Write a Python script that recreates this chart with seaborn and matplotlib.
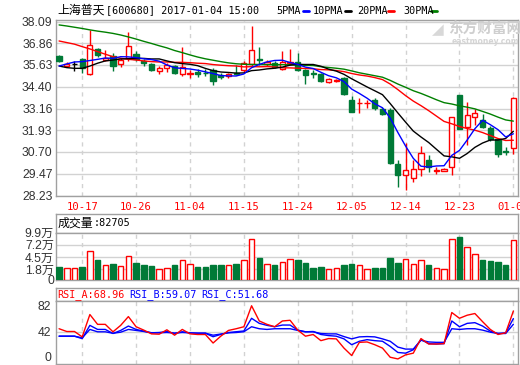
import matplotlib
matplotlib.use('Agg')
import matplotlib.pyplot as plt
from matplotlib.lines import Line2D
from matplotlib.patches import Rectangle
import numpy as np
import pandas as pd
import seaborn as sns

# ---------------- data ----------------
dates = ['10-12', '10-13', '10-14', '10-17', '10-18', '10-19', '10-20', '10-21', '10-24', '10-25',
         '10-26', '10-27', '10-28', '10-31', '11-01', '11-02', '11-03', '11-04', '11-07', '11-08',
         '11-09', '11-10', '11-11', '11-14', '11-15', '11-16', '11-17', '11-18', '11-21', '11-22',
         '11-23', '11-24', '11-25', '11-28', '11-29', '11-30', '12-01', '12-02', '12-05', '12-06',
         '12-07', '12-08', '12-09', '12-12', '12-13', '12-14', '12-15', '12-16', '12-19', '12-20',
         '12-21', '12-22', '12-23', '12-26', '12-27', '12-28', '12-29', '12-30', '01-03', '01-04']
opens = [36.14, 35.57, 35.68, 35.97, 35.10, 36.54, 35.92, 36.14, 35.67, 36.05,
         36.28, 35.86, 35.70, 35.27, 35.48, 35.57, 35.12, 35.10, 35.25, 35.20,
         35.35, 35.06, 35.02, 35.15, 35.35, 35.67, 35.95, 35.70, 35.73, 35.39,
         35.73, 35.82, 35.35, 35.16, 35.10, 34.68, 34.70, 34.88, 33.62, 33.45,
         33.45, 33.66, 33.12, 33.07, 30.04, 29.42, 29.25, 29.76, 30.27, 29.63,
         29.64, 29.86, 33.91, 32.12, 32.66, 32.50, 32.07, 31.41, 30.76, 30.90]
highs = [36.20, 35.80, 35.85, 36.05, 37.62, 36.60, 36.50, 36.30, 36.00, 37.48,
         36.40, 35.95, 35.75, 35.55, 35.75, 35.65, 36.67, 35.34, 35.40, 35.38,
         35.44, 35.20, 35.20, 35.65, 35.85, 37.85, 36.67, 35.90, 35.85, 36.43,
         36.54, 36.32, 35.40, 35.35, 35.15, 34.90, 34.82, 34.95, 33.87, 33.74,
         33.64, 33.74, 33.20, 33.17, 30.23, 31.18, 30.23, 31.05, 30.55, 29.84,
         29.77, 32.70, 33.95, 33.51, 33.11, 32.83, 32.16, 31.46, 31.00, 33.80]
lows = [35.80, 35.50, 35.30, 35.16, 35.08, 36.10, 35.85, 35.30, 35.50, 35.85,
        35.85, 35.55, 35.30, 35.10, 35.25, 35.12, 35.00, 34.92, 34.95, 35.00,
        34.50, 34.85, 34.90, 35.05, 35.25, 35.60, 35.63, 35.60, 35.45, 35.35,
        35.65, 35.30, 34.54, 34.88, 34.65, 34.62, 34.65, 33.95, 32.95, 32.90,
        33.17, 33.10, 32.80, 30.00, 28.72, 28.52, 29.00, 29.35, 29.57, 29.47,
        29.60, 29.42, 32.00, 31.08, 32.20, 32.03, 31.30, 30.42, 30.52, 30.56]
closes = [35.86, 35.68, 35.68, 35.44, 36.75, 36.20, 36.05, 35.59, 35.91, 36.70,
          35.98, 35.73, 35.36, 35.46, 35.63, 35.19, 35.53, 35.20, 35.12, 35.16,
          34.70, 34.97, 35.10, 35.10, 35.73, 36.48, 35.90, 35.82, 35.50, 35.80,
          35.82, 35.37, 35.06, 35.10, 34.73, 34.85, 34.78, 33.98, 32.97, 33.50,
          33.50, 33.20, 32.85, 30.08, 29.38, 29.66, 29.72, 30.62, 29.84, 29.68,
          29.73, 32.66, 32.02, 32.79, 32.88, 32.12, 31.42, 30.61, 30.72, 33.77]
volumes = [2.3, 2.0, 2.0, 2.3, 5.8, 3.7, 2.6, 2.9, 2.5, 4.7,
           3.1, 2.7, 2.5, 1.8, 2.0, 2.7, 3.9, 2.9, 2.3, 2.3,
           2.7, 2.7, 2.6, 2.9, 3.7, 8.5, 4.2, 2.9, 2.7, 3.3,
           4.0, 3.8, 3.1, 2.1, 2.3, 1.8, 2.0, 2.7, 2.9, 2.6,
           1.8, 2.1, 2.1, 4.2, 3.1, 4.1, 2.9, 3.9, 2.7, 2.0,
           1.8, 8.5, 9.0, 6.8, 5.2, 3.8, 3.6, 3.3, 2.7, 8.2705]
# moving-average values before enough visible closes exist
ma5_lead = [35.57, 35.69, 35.80, 35.82]
ma10_lead = [35.57, 35.48, 35.44, 35.44, 35.57, 35.73, 35.86, 35.91, 35.97]
ma20_lead = [36.99, 36.90, 36.81, 36.67, 36.54, 36.39, 36.24, 36.10, 36.01, 35.95,
             35.91, 35.86, 35.82, 35.80, 35.80, 35.78, 35.78, 35.76, 35.73]
ma30_lead = [37.90, 37.84, 37.77, 37.70, 37.62, 37.55, 37.49, 37.42, 37.33, 37.22,
             37.10, 36.97, 36.85, 36.72, 36.60, 36.45, 36.33, 36.20, 36.08, 35.98,
             35.90, 35.82, 35.75, 35.70, 35.67, 35.66, 35.66, 35.65, 35.65]
rsi_a = [45.9, 42.3, 42.3, 35.3, 64.4, 51.6, 51.6, 41.9, 50.3, 61.7,
         48.5, 44.1, 39.2, 38.8, 44.5, 37.5, 45.0, 39.2, 38.4, 38.4,
         27.3, 36.2, 43.7, 45.9, 48.5, 75.8, 56.0, 51.6, 48.5, 56.0,
         56.9, 44.1, 36.2, 38.4, 30.4, 33.1, 32.7, 20.7, 11.0, 28.2,
         28.7, 25.1, 20.7, 8.8, 6.6, 11.9, 14.1, 33.1, 26.0, 26.0,
         26.5, 67.0, 59.5, 63.5, 65.7, 55.1, 45.0, 38.4, 40.6, 68.96]
rsi_b = [36.2, 36.2, 36.2, 33.0, 50.3, 45.0, 45.0, 39.7, 43.7, 49.4,
         45.0, 42.8, 40.6, 41.0, 42.3, 39.7, 42.0, 40.5, 40.0, 40.0,
         35.5, 38.5, 41.0, 42.0, 43.0, 59.5, 52.9, 50.3, 48.5, 50.7,
         50.7, 44.1, 41.9, 42.3, 38.4, 37.0, 36.2, 32.7, 25.1, 29.6,
         31.7, 30.4, 29.6, 22.9, 15.0, 14.1, 18.5, 31.7, 26.5, 26.0,
         26.5, 56.0, 48.5, 52.9, 53.8, 49.4, 42.8, 39.7, 40.6, 59.07]
rsi_c = [36.2, 36.2, 36.2, 34.0, 45.0, 41.9, 41.9, 40.0, 41.4, 45.0,
         43.7, 42.3, 40.6, 40.6, 41.0, 40.2, 41.0, 40.5, 40.2, 40.2,
         37.5, 39.0, 40.5, 41.0, 42.0, 48.5, 45.9, 45.0, 45.9, 45.9,
         45.9, 43.7, 41.9, 41.9, 39.7, 39.2, 39.2, 35.7, 32.7, 35.3,
         35.7, 35.3, 32.7, 29.6, 22.0, 19.4, 19.4, 30.9, 28.7, 28.2,
         28.2, 45.9, 45.0, 45.9, 45.9, 44.1, 41.4, 39.7, 39.7, 51.68]
price_ticks = [38.09, 36.86, 35.63, 34.40, 33.16, 31.93, 30.70, 29.47, 28.23]
vol_ticks = [9.9, 7.2, 4.5, 1.8]
vol_tick_labels = ['9.9万', '7.2万', '4.5万', '1.8万']
vol_zero_label = '0'
rsi_ticks = [82, 42, 0]
date_ticks = ['10-17', '10-26', '11-04', '11-15', '11-24', '12-05', '12-14', '12-23', '01-04']
stock_name = '上海普天'
stock_info = '[600680] 2017-01-04 15:00'
ma_names = ['5PMA', '10PMA', '20PMA', '30PMA']
vol_name = '成交量'
vol_last = ':82705'
rsi_names = ['RSI_A:68.96', 'RSI_B:59.07', 'RSI_C:51.68']

# ---------------- style ----------------
sns.set_theme(style='white')
plt.rcParams['font.family'] = ['Liberation Sans', 'Noto Sans CJK SC', 'DejaVu Sans']
plt.rcParams['axes.unicode_minus'] = False

RED = '#ff0000'
GREEN = '#007a37'
MAGREEN = '#008000'
FRAME = '#a0a0a0'
GRID = '#d2d2d2'
LBL = '#333333'
MONO = 'DejaVu Sans Mono'
CJK = 'Noto Sans CJK SC'

W, H = 520, 365
fig = plt.figure(figsize=(W / 100, H / 100), dpi=100)
fig.patch.set_facecolor('white')


def box(x0, y0, x1, y1):
    return [x0 / W, 1 - y1 / H, (x1 - x0) / W, (y1 - y0) / H]


def fx(x):
    return x / W


def fy(y):
    return 1 - y / H


df = pd.DataFrame({'i': np.arange(len(dates)), 'date': dates, 'open': opens, 'high': highs,
                   'low': lows, 'close': closes, 'vol': volumes,
                   'rsi_a': rsi_a, 'rsi_b': rsi_b, 'rsi_c': rsi_c})
for n, lead in [(5, ma5_lead), (10, ma10_lead), (20, ma20_lead), (30, ma30_lead)]:
    m = df['close'].rolling(n).mean()
    m.iloc[:n - 1] = lead
    df['ma%d' % n] = m

tick_pos = [dates.index(d) for d in date_ticks]
XLIM = (-0.4, 59.6)


def frame(ax):
    ax.set_facecolor('white')
    for sp in ax.spines.values():
        sp.set_visible(True)
        sp.set_color(FRAME)
        sp.set_linewidth(1.0)
    ax.tick_params(length=0)
    ax.grid(False)


def vgrid(ax):
    for p in tick_pos:
        ax.axvline(p, color=GRID, lw=1.0, ls=(0, (3, 3)), zorder=0)


# ---------------- main price panel ----------------
ax = fig.add_axes(box(56, 20, 518, 195.5))
frame(ax)
ax.set_xlim(*XLIM)
ax.set_ylim(28.23, 38.18)
for t in price_ticks:
    ax.axhline(t, color=GRID, lw=1.0, zorder=0)
vgrid(ax)

bw = 0.68
for _, r in df.iterrows():
    o, c, h, l, i = r['open'], r['close'], r['high'], r['low'], r['i']
    if c > o:
        col = RED
    elif c < o:
        col = GREEN
    else:
        col = 'black'
    ax.vlines(i, l, h, color=col, lw=1.0, zorder=3)
    if c == o:
        ax.hlines(c, i - bw / 2, i + bw / 2, color=col, lw=1.0, zorder=3)
    elif c > o:
        ax.add_patch(Rectangle((i - bw / 2, o), bw, c - o, facecolor='white', edgecolor=RED,
                               lw=1.0, zorder=4))
    else:
        ax.add_patch(Rectangle((i - bw / 2, c), bw, o - c, facecolor=GREEN, edgecolor=GREEN,
                               lw=1.0, zorder=4))

for col_name, colr in [('ma30', MAGREEN), ('ma20', RED), ('ma10', 'black'), ('ma5', '#0000ff')]:
    sns.lineplot(data=df, x='i', y=col_name, ax=ax, color=colr, lw=1.0, zorder=6)

ax.set_xlabel('')
ax.set_ylabel('')
ax.set_yticks(price_ticks)
ax.set_yticklabels(['%.2f' % t for t in price_ticks], color=LBL, fontsize=8.7,
                   family='Liberation Sans')
ax.set_xticks(tick_pos)
ax.set_xticklabels(date_ticks, color=RED, fontsize=7.6, family=MONO)
ax.tick_params(axis='y', pad=2.5)
ax.tick_params(axis='x', pad=4.5)

# title & legend
fig.text(fx(57), fy(10.5), stock_name, family=CJK, fontsize=8.6, color='black',
         va='center', ha='left')
fig.text(fx(106), fy(10.5), stock_info, family=MONO, fontsize=7.3, color='black',
         va='center', ha='left')
legend_x = [276, 313, 357, 403]
dash_x = [(302.5, 308.5), (345, 351), (388, 394), (431, 437)]
dash_c = ['#0000ff', 'black', RED, MAGREEN]
for name, lx, (d0, d1), dc in zip(ma_names, legend_x, dash_x, dash_c):
    fig.text(fx(lx), fy(10.5), name, family=MONO, fontsize=7.3, color='black',
             va='center', ha='left')
    fig.add_artist(Line2D([fx(d0), fx(d1)], [fy(11), fy(11)], color=dc, lw=2.0))

# watermark
fig.text(fx(448), fy(29), '东方财富网', family=CJK, fontsize=10.5, fontweight='bold',
         color='#cfcfcf', va='center', ha='left', zorder=0)
fig.text(fx(452), fy(41), 'eastmoney.com', family='DejaVu Sans', fontsize=5.5,
         fontweight='bold', color='#d4d4d4', va='center', ha='left', zorder=0)
fig.text(fx(438), fy(30), '◢', family='DejaVu Sans', fontsize=11, color='#d8d8d8',
         va='center', ha='center', zorder=0)

# ---------------- volume panel ----------------
axvh = fig.add_axes(box(56, 214, 518, 232.7))
frame(axvh)
axvh.set_xticks([])
axvh.set_yticks([])
axvh.text(0.003, 0.5, vol_name, transform=axvh.transAxes, family=CJK, fontsize=8.6,
          color='black', va='center', ha='left')
fig.text(fx(94), fy(223.5), vol_last, family=MONO, fontsize=7.3, color='black',
         va='center', ha='left')

VBOT = -0.65
axv = fig.add_axes(box(56, 232.7, 518, 280))
frame(axv)
axv.set_xlim(*XLIM)
axv.set_ylim(VBOT, 9.9)
for t in vol_ticks[1:]:
    axv.axhline(t, color=GRID, lw=1.0, zorder=0)
vgrid(axv)
up = df['close'] >= df['open']
axv.bar(df.loc[up, 'i'], df.loc[up, 'vol'] - VBOT, bottom=VBOT, width=0.72,
        facecolor='white', edgecolor=RED, lw=1.0, zorder=3)
axv.bar(df.loc[~up, 'i'], df.loc[~up, 'vol'] - VBOT, bottom=VBOT, width=0.72,
        facecolor=GREEN, edgecolor=GREEN, lw=1.0, zorder=3)
axv.set_xticks([])
axv.set_yticks(vol_ticks + [VBOT])
axv.set_yticklabels(vol_tick_labels + [vol_zero_label], color=LBL, fontsize=8.7,
                    family=['Liberation Sans', 'Noto Sans CJK SC'])
axv.tick_params(axis='y', pad=1.5)

# ---------------- RSI panel ----------------
axrh = fig.add_axes(box(56, 287.7, 518, 301))
frame(axrh)
axrh.set_xticks([])
axrh.set_yticks([])
for name, x0, c in zip(rsi_names, [57, 129, 201], [RED, '#0000ff', '#0000ff']):
    fig.text(fx(x0), fy(294.5), name, family=MONO, fontsize=7.3, color=c,
             va='center', ha='left')

axr = fig.add_axes(box(56, 301, 518, 364))
frame(axr)
axr.set_xlim(*XLIM)
axr.set_ylim(0, 82)
axr.axhline(42, color=GRID, lw=1.0, zorder=0)
vgrid(axr)
sns.lineplot(data=df, x='i', y='rsi_c', ax=axr, color='#0000ff', lw=1.0, zorder=4)
sns.lineplot(data=df, x='i', y='rsi_b', ax=axr, color='#0000ff', lw=1.0, zorder=4)
sns.lineplot(data=df, x='i', y='rsi_a', ax=axr, color=RED, lw=1.0, zorder=5)
axr.set_xlabel('')
axr.set_ylabel('')
axr.set_xticks([])
axr.set_yticks(rsi_ticks)
labs = axr.set_yticklabels([str(t) for t in rsi_ticks], color=LBL, fontsize=8.7,
                           family='Liberation Sans')
labs[0].set_va('top')
labs[-1].set_va('bottom')
axr.tick_params(axis='y', pad=3.5)

fig.savefig('out.png', dpi=100, facecolor='white')
